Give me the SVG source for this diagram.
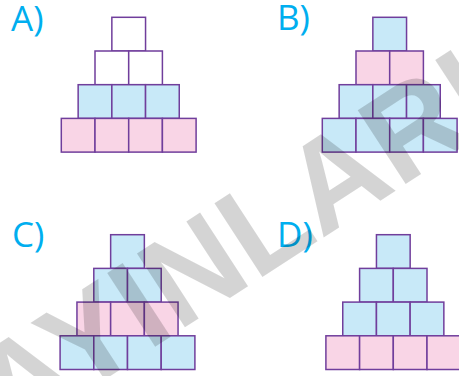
<svg xmlns="http://www.w3.org/2000/svg" width="459" height="376" viewBox="0 0 459 376">
<style>
.c{stroke:#703e9c;stroke-width:1.5}
.w{fill:#ffffff}
.b{fill:#c8e9f8}
.p{fill:#f9d5e6}
.lbl{font-family:"Open Sans","Noto Sans",sans-serif;font-size:35px;fill:#00aeef}
.wm{font-family:"Liberation Sans",Arial,sans-serif;font-weight:bold;font-size:128px;fill:#000;fill-opacity:0.17}
</style>
<rect width="459" height="376" fill="#fff"/>
<g id="labels">
<text class="lbl" x="11" y="31">A)</text>
<text class="lbl" x="277" y="30">B)</text>
<text class="lbl" x="12" y="247">C)</text>
<text class="lbl" x="277" y="247">D)</text>
</g>
<g id="pyramidA">
<rect class="c w" x="111.85" y="17.3" width="33.7" height="33.7"/>
<rect class="c w" x="95" y="51" width="33.7" height="33.7"/>
<rect class="c w" x="128.7" y="51" width="33.7" height="33.7"/>
<rect class="c b" x="78.15" y="84.7" width="33.7" height="33.7"/>
<rect class="c b" x="111.85" y="84.7" width="33.7" height="33.7"/>
<rect class="c b" x="145.55" y="84.7" width="33.7" height="33.7"/>
<rect class="c p" x="61.3" y="118.4" width="33.7" height="33.7"/>
<rect class="c p" x="95" y="118.4" width="33.7" height="33.7"/>
<rect class="c p" x="128.7" y="118.4" width="33.7" height="33.7"/>
<rect class="c p" x="162.4" y="118.4" width="33.7" height="33.7"/>
</g>
<g id="pyramidB">
<rect class="c b" x="372.85" y="17.3" width="33.7" height="33.7"/>
<rect class="c p" x="356" y="51" width="33.7" height="33.7"/>
<rect class="c p" x="389.7" y="51" width="33.7" height="33.7"/>
<rect class="c b" x="339.15" y="84.7" width="33.7" height="33.7"/>
<rect class="c b" x="372.85" y="84.7" width="33.7" height="33.7"/>
<rect class="c b" x="406.55" y="84.7" width="33.7" height="33.7"/>
<rect class="c b" x="322.3" y="118.4" width="33.7" height="33.7"/>
<rect class="c b" x="356" y="118.4" width="33.7" height="33.7"/>
<rect class="c b" x="389.7" y="118.4" width="33.7" height="33.7"/>
<rect class="c b" x="423.4" y="118.4" width="33.7" height="33.7"/>
</g>
<g id="pyramidC">
<rect class="c b" x="110.65" y="234.7" width="33.7" height="33.7"/>
<rect class="c b" x="93.8" y="268.4" width="33.7" height="33.7"/>
<rect class="c b" x="127.5" y="268.4" width="33.7" height="33.7"/>
<rect class="c p" x="76.95" y="302.1" width="33.7" height="33.7"/>
<rect class="c p" x="110.65" y="302.1" width="33.7" height="33.7"/>
<rect class="c p" x="144.35" y="302.1" width="33.7" height="33.7"/>
<rect class="c b" x="60.1" y="335.8" width="33.7" height="33.7"/>
<rect class="c b" x="93.8" y="335.8" width="33.7" height="33.7"/>
<rect class="c b" x="127.5" y="335.8" width="33.7" height="33.7"/>
<rect class="c b" x="161.2" y="335.8" width="33.7" height="33.7"/>
</g>
<g id="pyramidD">
<rect class="c b" x="376.45" y="234.7" width="33.7" height="33.7"/>
<rect class="c b" x="359.6" y="268.4" width="33.7" height="33.7"/>
<rect class="c b" x="393.3" y="268.4" width="33.7" height="33.7"/>
<rect class="c b" x="342.75" y="302.1" width="33.7" height="33.7"/>
<rect class="c b" x="376.45" y="302.1" width="33.7" height="33.7"/>
<rect class="c b" x="410.15" y="302.1" width="33.7" height="33.7"/>
<rect class="c p" x="325.9" y="335.8" width="33.7" height="33.7"/>
<rect class="c p" x="359.6" y="335.8" width="33.7" height="33.7"/>
<rect class="c p" x="393.3" y="335.8" width="33.7" height="33.7"/>
<rect class="c p" x="427" y="335.8" width="33.7" height="33.7"/>
</g>
<g id="watermark">
<text class="wm" transform="translate(-53 482) rotate(-33)">YAYINLARI</text>
</g>
</svg>
